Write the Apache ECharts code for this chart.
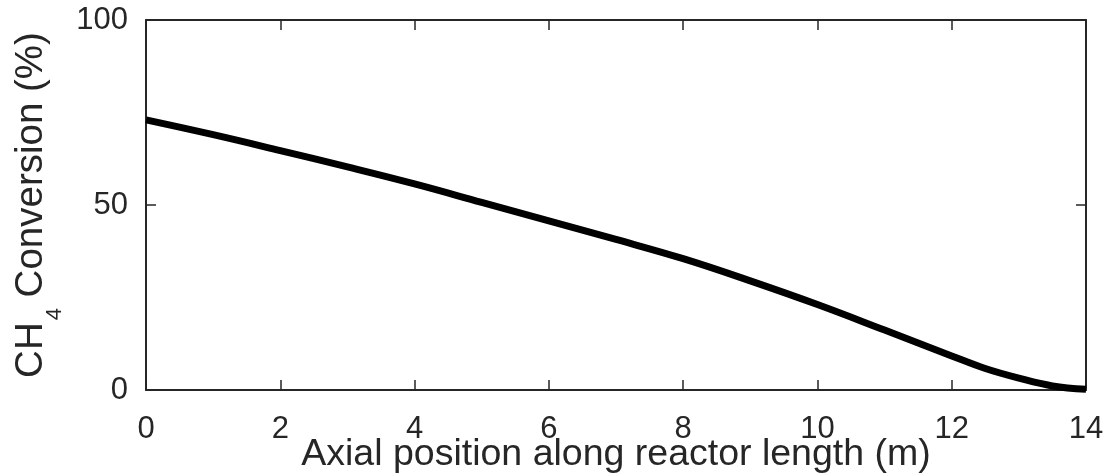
<!DOCTYPE html>
<html>
<head>
<meta charset="utf-8">
<script src="https://cdn.jsdelivr.net/npm/echarts@6/dist/echarts.min.js"></script>
<style>
  html, body { margin: 0; padding: 0; background: #ffffff; }
  #chart { width: 1105px; height: 476px; }
</style>
</head>
<body>
<div id="chart"></div>
<script>
// Axial position along the reactor (m) and CH4 conversion (%) at each position
const positions = [0, 1, 2, 3, 4, 5, 6, 7, 8, 9, 10, 11, 12, 12.5, 13, 13.5, 14];
const conversion = [73.0, 69.0, 64.7, 60.3, 55.7, 50.7, 45.7, 40.7, 35.5, 29.5, 23.1, 16.2, 9.2, 5.8, 3.2, 1.1, 0.2];

const xTicks = [0, 2, 4, 6, 8, 10, 12, 14];
const yTicks = [0, 50, 100];

const FONT = '"Liberation Sans", Arial, Helvetica, sans-serif';
const INK = '#262626';

const points = positions.map((x, i) => [x, conversion[i]]);

const frameAxis = {
  axisLine: { show: true, onZero: false, lineStyle: { color: INK, width: 2 } },
  axisTick: { show: true, inside: true, length: 10, lineStyle: { color: INK, width: 1.5 } },
  splitLine: { show: false }
};

const chart = echarts.init(document.getElementById('chart'), null, { renderer: 'canvas' });

chart.setOption({
  animation: false,
  backgroundColor: '#ffffff',
  grid: { left: 146, right: 19, top: 20, bottom: 86, containLabel: false, outerBoundsMode: 'none' },
  xAxis: [
    Object.assign({
      type: 'value',
      position: 'bottom',
      min: xTicks[0],
      max: xTicks[xTicks.length - 1],
      interval: xTicks[1] - xTicks[0],
      name: 'Axial position along reactor length (m)',
      nameLocation: 'middle',
      nameGap: 46,
      nameMoveOverlap: false,
      nameTextStyle: { fontFamily: FONT, fontSize: 37.5, color: INK },
      axisLabel: { show: true, margin: 24, fontFamily: FONT, fontSize: 31, color: INK }
    }, frameAxis),
    Object.assign({
      type: 'value',
      position: 'top',
      min: xTicks[0],
      max: xTicks[xTicks.length - 1],
      interval: xTicks[1] - xTicks[0],
      axisLabel: { show: false }
    }, frameAxis)
  ],
  yAxis: [
    Object.assign({
      type: 'value',
      position: 'left',
      min: yTicks[0],
      max: yTicks[yTicks.length - 1],
      interval: yTicks[1] - yTicks[0],
      // CH with a lowered subscript 4, as in the chemical formula
      name: '{a|CH}{s|4}{a| Conversion (%)}',
      nameLocation: 'middle',
      nameRotate: 90,
      nameGap: 80,
      nameMoveOverlap: false,
      nameTextStyle: {
        fontFamily: FONT,
        color: INK,
        rich: {
          a: { fontFamily: FONT, fontSize: 38.5, lineHeight: 38.5, color: INK, verticalAlign: 'top' },
          s: { fontFamily: FONT, fontSize: 22, lineHeight: 54, color: INK, verticalAlign: 'bottom', padding: [0, 0, 0, 2] }
        }
      },
      axisLabel: { show: true, margin: 18, fontFamily: FONT, fontSize: 31, color: INK }
    }, frameAxis),
    Object.assign({
      type: 'value',
      position: 'right',
      min: yTicks[0],
      max: yTicks[yTicks.length - 1],
      interval: yTicks[1] - yTicks[0],
      axisLabel: { show: false }
    }, frameAxis)
  ],
  series: [{
    type: 'line',
    data: points,
    smooth: 0.4,
    showSymbol: false,
    symbol: 'none',
    clip: true,
    lineStyle: { color: '#000000', width: 7, cap: 'butt', join: 'round' }
  }]
});
</script>
</body>
</html>
